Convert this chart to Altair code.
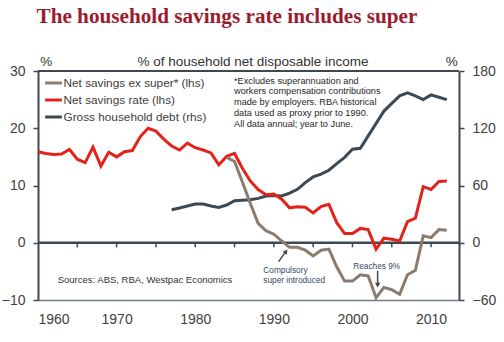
import altair as alt
import pandas as pd

# ---------------- data ----------------
years = list(range(1960, 2013))
net_savings_rate = [15.9, 15.6, 15.4, 15.5, 16.3, 14.6, 14.0, 16.7, 13.4, 15.8,
                    15.0, 15.9, 16.1, 18.5, 20.0, 19.5, 18.1, 16.9, 16.2, 17.4,
                    16.6, 16.2, 15.7, 13.6, 15.1, 15.6, 13.0, 10.8, 9.3, 8.4,
                    8.5, 7.6, 6.1, 6.3, 6.2, 5.2, 6.3, 6.7, 3.5, 1.6,
                    1.6, 2.5, 2.3, -1.1, 0.8, 0.6, 0.3, 3.7, 4.3, 9.8,
                    9.3, 10.7, 10.8]

ex_super_years = list(range(1984, 2013))
net_savings_ex_super = [14.9, 14.2, 10.6, 6.9, 3.4, 2.1,
                        1.5, 0.3, -0.8, -0.8, -1.3, -2.3, -1.3, -1.1, -4.2, -6.7,
                        -6.7, -5.6, -5.8, -9.6, -7.8, -8.2, -9.0, -5.6, -4.8, 1.2,
                        0.9, 2.3, 2.2]

debt_years = list(range(1977, 2013))
gross_household_debt = [34.5, 36.5, 38.5,
                        40.5, 40.5, 38.5, 37, 39.5, 44, 44.5, 45, 46.5, 49,
                        49.5, 49, 52, 56, 63, 69, 72, 76, 83, 89.5,
                        98, 99, 112, 125, 138, 146, 154, 157, 154, 150,
                        155, 152.5, 150]

series_names = ["Net savings ex super* (lhs)", "Net savings rate (lhs)",
                "Gross household debt (rhs)"]
series_colors = ["#8c7c70", "#e2231a", "#3c4852"]

x_label_years = [1960, 1970, 1980, 1990, 2000, 2010]
zero_tick_years = [1965, 1970, 1975, 1980, 1985, 1990, 1995, 2000, 2005, 2010]
left_ticks = [-10, 0, 10, 20, 30]
right_ticks = [-60, 0, 60, 120, 180]

title_text = "The household savings rate includes super"
subtitle_text = "% of household net disposable income"
note_lines = ["*Excludes superannuation and",
              "workers compensation contributions",
              "made by employers. RBA historical",
              "data used as proxy prior to 1990.",
              "All data annual; year to June."]
sources_text = "Sources: ABS, RBA, Westpac Economics"
compulsory_lines = ["Compulsory", "super introduced"]
reaches_text = "Reaches 9%"

# annotation arrows (data coordinates: year, lhs %)
arrow_x = [1990.6, 2003.2]
arrow_y = [-3.3, -4.9]
arrow_x2 = [1991.55, 2003.2]
arrow_y2 = [-1.5, -7.4]

# ---------------- tables ----------------
rows = []
for yr, v in zip(years, net_savings_rate):
    rows.append({"year": yr, "value": v, "series": series_names[1]})
for yr, v in zip(ex_super_years, net_savings_ex_super):
    rows.append({"year": yr, "value": v, "series": series_names[0]})
lhs_df = pd.DataFrame(rows)
rhs_df = pd.DataFrame({"year": debt_years, "value": gross_household_debt,
                       "series": series_names[2]})
ticks_df = pd.DataFrame({"year": zero_tick_years})
arrows_df = pd.DataFrame({"x": arrow_x, "y": arrow_y, "x2": arrow_x2, "y2": arrow_y2})
one = pd.DataFrame({"a": [0]})

FONT = "Liberation Sans"
DARK = "#3c4852"
LABEL = "#404040"

x_scale = alt.Scale(domain=[1960, 2013.55], nice=False, zero=False)
yl_scale = alt.Scale(domain=[-10, 30], nice=False, zero=False)
yr_scale = alt.Scale(domain=[-60, 180], nice=False, zero=False)

color = alt.Color("series:N",
                  scale=alt.Scale(domain=series_names, range=series_colors),
                  legend=alt.Legend(title=None, orient="none", legendX=5.5, legendY=2,
                                    symbolType="stroke", symbolSize=280,
                                    symbolStrokeWidth=3, labelFontSize=11.8,
                                    labelFont=FONT, labelColor=LABEL, labelOffset=0,
                                    rowPadding=0, padding=0))

x_main = alt.X("year:Q", scale=x_scale,
               axis=alt.Axis(title=None, values=x_label_years, format="d",
                             tickSize=0, labelPadding=12, labelFontSize=14,
                             labelFont=FONT, labelColor=LABEL,
                             domainColor="#6f7a83", domainWidth=1.5, grid=False))

lhs_lines = alt.Chart(lhs_df).mark_line(strokeWidth=3).encode(
    x=x_main,
    y=alt.Y("value:Q", scale=yl_scale,
            axis=alt.Axis(title=None, values=left_ticks, tickSize=5, tickWidth=1.5,
                          tickColor=DARK, domainColor=DARK, domainWidth=2,
                          labelFontSize=14, labelFont=FONT, labelColor=LABEL,
                          labelPadding=8, grid=False)),
    color=color,
)

zero_line = alt.Chart(one).mark_rule(color=DARK, strokeWidth=2.5).encode(
    y=alt.datum(0, scale=yl_scale), x=alt.value(0), x2=alt.value(421))

zero_ticks = alt.Chart(ticks_df).mark_rule(color=DARK, strokeWidth=1.5).encode(
    x=alt.X("year:Q", scale=x_scale, title=None),
    y=alt.datum(0), y2=alt.datum(-0.8))

top_line = alt.Chart(one).mark_rule(color=DARK, strokeWidth=2).encode(
    x=alt.value(0), x2=alt.value(421), y=alt.value(0))

arrow_lines = alt.Chart(arrows_df).mark_rule(color=DARK, strokeWidth=1.5).encode(
    x=alt.X("x:Q", scale=x_scale, title=None), x2="x2:Q",
    y=alt.Y("y:Q", title=None), y2="y2:Q")

head1 = alt.Chart(arrows_df.iloc[[0]]).mark_point(
    shape="triangle-up", angle=36, filled=True, size=28, color=DARK, opacity=1).encode(
    x=alt.X("x2:Q", scale=x_scale, title=None), y=alt.Y("y2:Q", title=None))
head2 = alt.Chart(arrows_df.iloc[[1]]).mark_point(
    shape="triangle-down", filled=True, size=28, color=DARK, opacity=1).encode(
    x=alt.X("x2:Q", scale=x_scale, title=None), y=alt.Y("y2:Q", title=None))

def txt(text, x, y, size, color, align="left", baseline="alphabetic", **kw):
    return alt.Chart(one).mark_text(text=text, align=align, baseline=baseline,
                                    fontSize=size, color=color, **kw).encode(
        x=alt.value(x), y=alt.value(y))

title = txt(title_text, -1.5, -48.5, 21.2, "#9c1b2f", font="Liberation Serif",
            fontWeight="bold")
subtitle = txt(subtitle_text, 215, -5, 13.5, "#333333", align="center", font=FONT)
pct_left = txt("%", 8.3, -5, 13.5, "#333333", align="center", font=FONT)
pct_right = txt("%", 413.7, -5, 13.5, "#333333", align="center", font=FONT)
note = txt(note_lines, 196, 12.5, 9.2, "#262626", font=FONT, lineHeight=10.9)
sources = txt(sources_text, 19.7, 211.5, 9.5, "#333333", font=FONT)
compulsory = txt(compulsory_lines, 225.3, 202, 8.3, "#34495e", font=FONT, lineHeight=9.5)
reaches = txt(reaches_text, 338.7, 198, 8.3, "#34495e", align="center", font=FONT)

left = alt.layer(zero_line, zero_ticks, top_line, lhs_lines, arrow_lines, head1, head2,
                 title, subtitle, pct_left, pct_right, note, sources, compulsory, reaches)

right = alt.Chart(rhs_df).mark_line(strokeWidth=3).encode(
    x=alt.X("year:Q", scale=x_scale, title=None),
    y=alt.Y("value:Q", scale=yr_scale,
            axis=alt.Axis(title=None, orient="right", values=right_ticks, tickSize=5,
                          tickWidth=1.5, tickColor=DARK, domainColor=DARK,
                          domainWidth=2, labelFontSize=14, labelFont=FONT,
                          labelColor=LABEL, labelPadding=8, grid=False)),
    color=color,
)

chart = alt.layer(right, left).resolve_scale(y="independent").properties(
    width=421, height=229,
    padding={"left": 38, "top": 71, "right": 45, "bottom": 42},
    autosize=alt.AutoSizeParams(type="none"),
    background="white",
).configure_view(stroke=None)

chart.save("out.html", embed_options={"renderer": "svg", "actions": False})
